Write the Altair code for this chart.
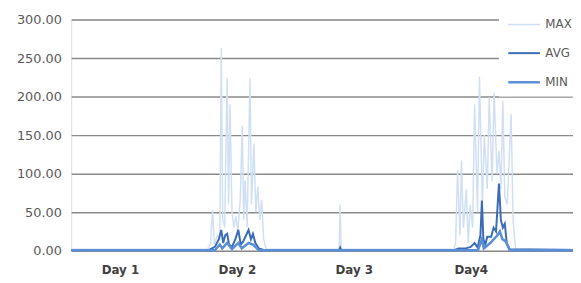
import altair as alt
import pandas as pd

# ---- data (hours since start, value) ----
series_names = ["MAX", "AVG", "MIN"]

max_t = [0, 28.0, 28.6, 29.0, 29.4, 30.0, 30.5, 30.8, 31.1, 31.5, 32.0, 32.3, 32.6, 33.0, 33.4, 33.8,
         34.2, 34.7, 35.1, 35.4, 35.7, 36.1, 36.7, 37.0, 37.5, 37.9, 38.3, 38.7, 39.1, 39.5, 40.0,
         55.0, 55.2, 55.4,
         78.5, 78.9, 79.3, 79.8, 80.1, 80.5, 81.1, 81.5, 81.9, 82.4, 82.8, 83.4, 83.8, 84.4, 84.8,
         85.4, 85.8, 86.4, 86.8, 87.4, 87.8, 88.2, 88.6, 89.0, 89.5, 90.3, 90.7, 91.2, 103]
max_v = [2, 2, 10, 53, 8, 20, 15, 263, 40, 30, 224, 60, 190, 50, 30, 45,
         25, 66, 162, 40, 91, 30, 224, 60, 139, 50, 83, 40, 66, 15, 2,
         2, 60, 2,
         2, 10, 104, 20, 117, 30, 80, 10, 60, 30, 190, 50, 226, 60, 150,
         80, 199, 90, 205, 100, 130, 80, 194, 70, 60, 177, 40, 2, 2]

avg_t = [0, 28.3, 29.5, 30.3, 30.8, 31.2, 31.6, 32.0, 32.4, 33.0, 33.7, 34.3, 34.8, 35.3, 35.9,
         36.4, 36.9, 37.3, 37.8, 38.5, 39.5, 55.0, 55.2, 55.4,
         78.7, 79.5, 81.0, 82.0, 82.8, 83.4, 84.0, 84.3, 84.6, 85.0, 85.4, 86.2, 86.7, 87.2,
         87.8, 88.2, 88.6, 89.0, 89.4, 90.0, 103]
avg_v = [1, 1, 5, 15, 27, 10, 20, 22, 8, 5, 15, 27, 8, 12, 20,
         27, 15, 22, 10, 3, 1, 1, 4, 1,
         1, 3, 3, 5, 10, 4, 20, 65, 15, 8, 18, 18, 30, 25,
         87, 40, 30, 35, 10, 2, 1]

min_t = [0, 29.5, 30.5, 31.0, 32.0, 33.0, 34.3, 35.0, 36.4, 37.3, 38.5,
         83.5, 84.3, 84.7, 86.0, 87.5, 88.0, 88.5, 89.2, 90.0, 103]
min_v = [0.5, 0.5, 8, 3, 10, 2, 10, 3, 10, 8, 0.5,
         0.5, 15, 3, 10, 20, 25, 15, 12, 0.5, 0.5]

day_ticks = [10, 34, 58, 82]
day_labels = ["Day 1", "Day 2", "Day 3", "Day4"]

colors = ["#d0e0f4", "#3a6cb8", "#5a8fd8"]
widths = [1.5, 2.5, 1.5]

rows = []
for name, ts, vs in [("MAX", max_t, max_v), ("AVG", avg_t, avg_v), ("MIN", min_t, min_v)]:
    for t, v in zip(ts, vs):
        rows.append({"series": name, "t": t, "v": v})
df = pd.DataFrame(rows)

label_expr = "".join(
    f"datum.value == {t} ? '{l}' : " for t, l in zip(day_ticks, day_labels)
) + "''"

chart = alt.Chart(df).mark_line(interpolate="linear").encode(
    x=alt.X("t:Q", scale=alt.Scale(domain=[0, 103], nice=False),
            axis=alt.Axis(values=day_ticks, labelExpr=label_expr, title=None, grid=False,
                          ticks=False, labelPadding=14, domain=False,
                          labelFont="DejaVu Sans", labelFontSize=12, labelFontWeight="bold",
                          labelColor="#404040")),
    y=alt.Y("v:Q", scale=alt.Scale(domain=[0, 300], nice=False),
            axis=alt.Axis(values=[0, 50, 100, 150, 200, 250, 300], format=".2f", title=None,
                          ticks=False, domain=False, labelPadding=10,
                          gridColor="#8a8a8a", gridWidth=1.5,
                          labelFont="DejaVu Sans", labelFontSize=13, labelColor="#595959")),
    color=alt.Color("series:N", scale=alt.Scale(domain=series_names, range=colors),
                    legend=alt.Legend(title=None, orient="none", legendX=433, legendY=-20,
                                      fillColor="white", padding=8, symbolType="stroke",
                                      symbolSize=1024, symbolStrokeWidth=3, rowPadding=6,
                                      labelFont="DejaVu Sans", labelFontSize=12,
                                      labelColor="#595959", labelOffset=4)),
    strokeWidth=alt.StrokeWidth("series:N", scale=alt.Scale(domain=series_names, range=widths),
                                legend=None),
    order=alt.Order("t:Q"),
).properties(
    width=508, height=234,
    autosize=alt.AutoSizeParams(type="none"),
    padding={"left": 64, "top": 10, "right": 0, "bottom": 30},
).configure_view(
    fill="#f1f1f1", stroke=None
).configure(background="white")

chart.save("out.html", embed_options={"renderer": "svg", "actions": False})
